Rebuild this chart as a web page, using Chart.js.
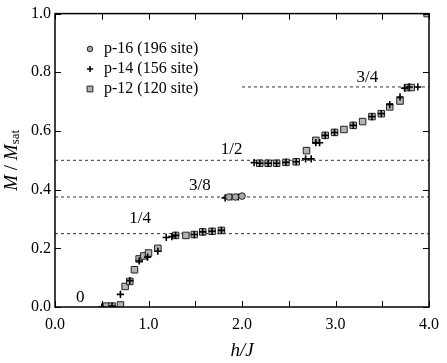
<!DOCTYPE html>
<html>
<head>
<meta charset="utf-8">
<script src="https://cdn.jsdelivr.net/npm/chart.js@4.4.1/dist/chart.umd.min.js"></script>
<style>
  html, body { margin: 0; padding: 0; background: #fff; }
  #wrap { width: 447px; height: 363px; }
</style>
</head>
<body>
<div id="wrap"><canvas id="myChart1" width="447" height="363"></canvas></div>
<script>
// p-12 (120 site) - squares
const p12X = [0.55, 0.61, 0.70, 0.75, 0.80, 0.85, 0.90, 0.95, 1.00, 1.10, 1.29, 1.40, 1.49, 1.58, 1.68, 1.78,
  2.19, 2.28, 2.37, 2.47, 2.58, 2.69, 2.79, 2.89, 2.99, 3.09, 3.19, 3.29, 3.39, 3.49, 3.58, 3.69, 3.77, 3.81, 3.98];
const p12Y = [0.003, 0.003, 0.007, 0.07, 0.087, 0.127, 0.164, 0.174, 0.184, 0.20, 0.244, 0.244, 0.247, 0.256, 0.258, 0.261,
  0.49, 0.49, 0.49, 0.493, 0.495, 0.533, 0.568, 0.585, 0.595, 0.605, 0.619, 0.632, 0.649, 0.659, 0.682, 0.702, 0.748, 0.748, 1.0];
// p-14 (156 site) - plus
const p14X = [0.50, 0.61, 0.70, 0.80, 0.90, 0.99, 1.10, 1.19, 1.25, 1.29, 1.49, 1.58, 1.68, 1.78, 1.82, 1.89, 1.96,
  2.13, 2.19, 2.28, 2.37, 2.47, 2.58, 2.68, 2.74, 2.79, 2.83, 2.89, 2.99, 3.19, 3.39, 3.49, 3.58, 3.69, 3.74, 3.79, 3.88];
const p14Y = [0.0, 0.003, 0.043, 0.09, 0.157, 0.17, 0.19, 0.237, 0.24, 0.244, 0.247, 0.256, 0.258, 0.261, 0.372, 0.375, 0.375,
  0.492, 0.49, 0.49, 0.49, 0.493, 0.495, 0.505, 0.505, 0.56, 0.56, 0.585, 0.595, 0.619, 0.649, 0.659, 0.69, 0.716, 0.746, 0.75, 0.75];
// p-16 (196 site) - circles
const p16X = [1.86, 1.93, 2.00];
const p16Y = [0.375, 0.375, 0.378];

// plateau guide lines and their labels
const plateauVals = [0.25, 0.375, 0.5, 0.75];
const plateauFrom = [0, 0, 0, 2.0];
const plateauText = ["0", "1/4", "3/8", "1/2", "3/4"];
const plateauTextX = [0.27, 0.91, 1.55, 1.89, 3.34];
const plateauTextY = [0.033, 0.30, 0.415, 0.538, 0.783];

const xTicks = [0.0, 1.0, 2.0, 3.0, 4.0];

const pts = (xs, ys) => xs.map((x, i) => ({ x: x, y: ys[i] }));
const serif = '"Liberation Serif", "DejaVu Serif", serif';

const guideSets = plateauVals.map((v, i) => ({
  type: 'line',
  label: 'guide',
  data: [{ x: plateauFrom[i], y: v }, { x: 4, y: v }],
  borderColor: '#333',
  borderWidth: 1,
  borderDash: [3, 3],
  pointRadius: 0,
  order: 10
}));

const overlay = {
  id: 'overlay',
  afterDraw(chart) {
    const ctx = chart.ctx;
    const xs = chart.scales.x, ys = chart.scales.y;
    const a = chart.chartArea;
    ctx.save();
    // frame
    ctx.strokeStyle = '#000';
    ctx.lineWidth = 1.5;
    ctx.strokeRect(a.left, a.top, a.right - a.left, a.bottom - a.top);
    // inward ticks
    ctx.lineWidth = 1;
    xs.ticks.forEach(t => {
      const p = Math.round(xs.getPixelForValue(t.value)) + 0.5;
      ctx.beginPath();
      ctx.moveTo(p, a.bottom); ctx.lineTo(p, a.bottom - 6);
      ctx.moveTo(p, a.top); ctx.lineTo(p, a.top + 6);
      ctx.stroke();
    });
    ys.ticks.forEach(t => {
      const p = Math.round(ys.getPixelForValue(t.value)) + 0.5;
      ctx.beginPath();
      ctx.moveTo(a.left, p); ctx.lineTo(a.left + 6, p);
      ctx.moveTo(a.right, p); ctx.lineTo(a.right - 6, p);
      ctx.stroke();
    });
    // plateau labels
    ctx.fillStyle = '#000';
    ctx.font = '17px ' + serif;
    ctx.textAlign = 'center';
    ctx.textBaseline = 'middle';
    plateauText.forEach((s, i) => {
      ctx.fillText(s, xs.getPixelForValue(plateauTextX[i]), ys.getPixelForValue(plateauTextY[i]));
    });
    // x title
    ctx.font = 'italic 19px ' + serif;
    ctx.fillText('h/J', (a.left + a.right) / 2, 351);
    // y title
    ctx.translate(12, (a.top + a.bottom) / 2);
    ctx.rotate(-Math.PI / 2);
    ctx.textAlign = 'left';
    const p1 = 'M', p2 = ' / ', p3 = 'M', p4 = 'sat';
    ctx.font = 'italic 19px ' + serif;
    const w1 = ctx.measureText(p1).width;
    ctx.font = '19px ' + serif;
    const w2 = ctx.measureText(p2).width;
    ctx.font = 'italic 19px ' + serif;
    const w3 = ctx.measureText(p3).width;
    ctx.font = '13px ' + serif;
    const w4 = ctx.measureText(p4).width;
    let x0 = -(w1 + w2 + w3 + w4) / 2;
    ctx.font = 'italic 19px ' + serif; ctx.fillText(p1, x0, 0); x0 += w1;
    ctx.font = '19px ' + serif; ctx.fillText(p2, x0, 0); x0 += w2;
    ctx.font = 'italic 19px ' + serif; ctx.fillText(p3, x0, 0); x0 += w3;
    ctx.font = '13px ' + serif; ctx.fillText(p4, x0, 4);
    ctx.restore();

    // legend
    ctx.save();
    const rows = [chart.data.datasets[2], chart.data.datasets[1], chart.data.datasets[0]];
    ctx.font = '16px ' + serif;
    ctx.textBaseline = 'middle';
    rows.forEach((ds, i) => {
      const y = 49 + i * 20;
      ctx.fillStyle = ds.backgroundColor;
      ctx.strokeStyle = ds.borderColor;
      ctx.lineWidth = ds.borderWidth;
      Chart.helpers.drawPoint(ctx, { pointStyle: ds.pointStyle, radius: ds.pointRadius - 0.5, borderWidth: ds.borderWidth, rotation: 0 }, 90, y);
      ctx.fillStyle = '#000';
      ctx.fillText(ds.label, 104, y);
    });
    ctx.restore();
  }
};

new Chart(document.getElementById('myChart1'), {
  type: 'scatter',
  data: {
    datasets: [
      {
        label: 'p-12 (120 site)',
        data: pts(p12X, p12Y),
        pointStyle: 'rect',
        pointRadius: 4.6,
        backgroundColor: '#b4b4b4',
        borderColor: '#222',
        borderWidth: 1,
        order: 3
      },
      {
        label: 'p-14 (156 site)',
        data: pts(p14X, p14Y),
        pointStyle: 'cross',
        pointRadius: 3.6,
        backgroundColor: '#000',
        borderColor: '#000',
        borderWidth: 1.6,
        order: 2
      },
      {
        label: 'p-16 (196 site)',
        data: pts(p16X, p16Y),
        pointStyle: 'circle',
        pointRadius: 3.3,
        backgroundColor: '#a8a8a8',
        borderColor: '#222',
        borderWidth: 1,
        order: 1
      },
      ...guideSets
    ]
  },
  options: {
    responsive: false,
    animation: false,
    layout: { padding: { top: 8, right: 17, left: 0, bottom: 0 } },
    plugins: { legend: { display: false }, tooltip: { enabled: false } },
    scales: {
      x: {
        type: 'linear',
        min: 0, max: 4,
        afterFit: s => { s.height = 56; },
        grid: { display: false, drawTicks: false },
        border: { display: false },
        ticks: {
          stepSize: 0.5,
          padding: 8,
          color: '#000',
          font: { family: serif, size: 16 },
          maxRotation: 0,
          autoSkip: false,
          callback: v => xTicks.includes(v) ? v.toFixed(1) : ''
        }
      },
      y: {
        type: 'linear',
        min: 0, max: 1,
        afterFit: s => { s.width = 55; },
        grid: { display: false, drawTicks: false },
        border: { display: false },
        ticks: {
          stepSize: 0.2,
          padding: 4,
          color: '#000',
          font: { family: serif, size: 16 },
          callback: v => v.toFixed(1)
        }
      }
    }
  },
  plugins: [overlay]
});
</script>
</body>
</html>
